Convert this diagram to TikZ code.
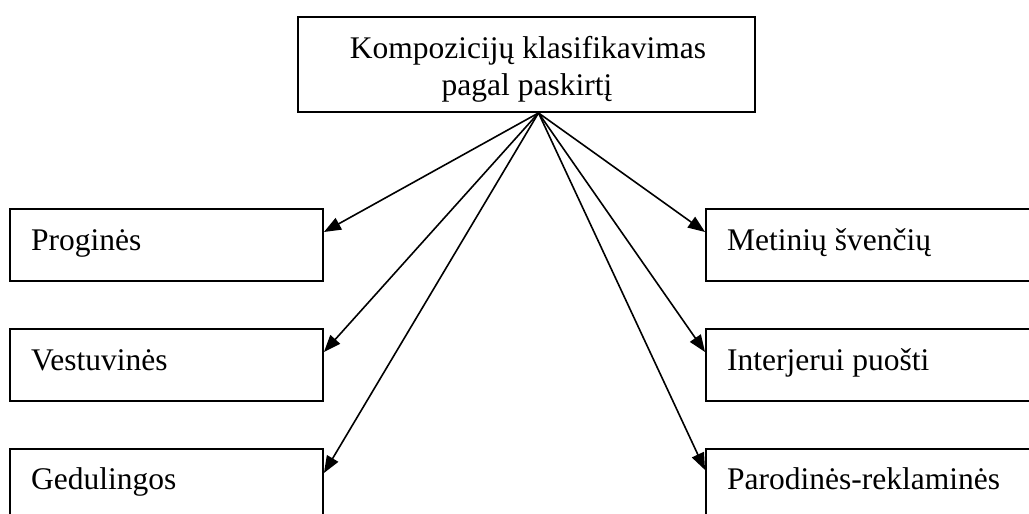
\documentclass[tikz,border=0pt]{standalone}
\usepackage{fontspec}
\setmainfont{Liberation Serif}
\usetikzlibrary{arrows.meta,calc}
\tikzset{
  boxshape/.style={draw, line width=1.9pt, rectangle, inner sep=0pt, minimum height=72pt},
  lbl/.style={inner sep=0pt, anchor=base west, font=\fontsize{31.5}{33}\selectfont},
  ctr/.style={inner sep=0pt, anchor=base, font=\fontsize{31.5}{33}\selectfont},
  conn/.style={line width=1.6pt, -{Triangle[length=17pt,width=13pt]}}
}
\begin{document}
\begin{tikzpicture}[x=1pt,y=-1pt]
\path[use as bounding box] (0,0) rectangle (1029,514);
\clip (0,0) rectangle (1029,514);
\fill[white] (0,0) rectangle (1029,514);
% top box
\node[boxshape, minimum width=457pt, minimum height=95pt] (top) at (526.5,64.5) {};
\node[ctr] (t1) at (528,58) {Kompozicijų klasifikavimas};
\node[ctr] (t2) at (527,95) {pagal paskirtį};
\coordinate (apex) at ($(top.south)+(12pt,0)$);
% left boxes
\node[boxshape, minimum width=313pt] (L1) at (166.5,245) {};
\node[boxshape, minimum width=313pt] (L2) at (166.5,365) {};
\node[boxshape, minimum width=313pt] (L3) at (166.5,485) {};
\node[lbl] (l1) at (31,250) {Proginės};
\node[lbl] (l2) at (31,370) {Vestuvinės};
\node[lbl] (l3) at (31,489) {Gedulingos};
% right boxes
\node[boxshape, minimum width=334pt] (R1) at (873,245) {};
\node[boxshape, minimum width=334pt] (R2) at (873,365) {};
\node[boxshape, minimum width=334pt] (R3) at (873,485) {};
\node[lbl] (r1) at (727,250) {Metinių švenčių};
\node[lbl] (r2) at (727,370) {Interjerui puošti};
\node[lbl] (r3) at (727,489) {Parodinės-reklaminės};
% connectors
\draw[conn] (apex) -- ([yshift=13pt]L1.east);
\draw[conn] (apex) -- ([yshift=13pt]L2.east);
\draw[conn] (apex) -- ([yshift=12pt]L3.east);
\draw[conn] (apex) -- ([yshift=13pt]R1.west);
\draw[conn] (apex) -- ([yshift=13pt]R2.west);
\draw[conn] (apex) -- ([yshift=15pt]R3.west);
\end{tikzpicture}
\end{document}
